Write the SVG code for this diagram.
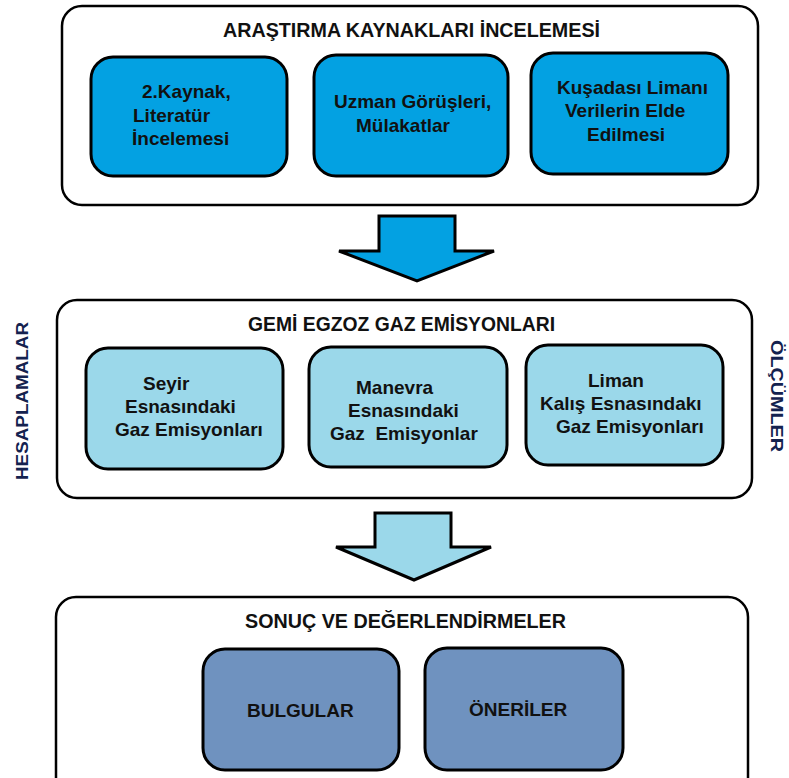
<svg xmlns="http://www.w3.org/2000/svg" width="789" height="778" viewBox="0 0 789 778">
<style>
.outer{fill:#fff;stroke:#000;stroke-width:2.5}
.box{stroke:#000;stroke-width:3}
.b1{fill:#03A1E2}
.b2{fill:#9BD8EA}
.b3{fill:#6F92BF}
.arr{stroke:#000;stroke-width:3;stroke-linejoin:miter}
text{font-family:"Liberation Sans",Arial,sans-serif;font-weight:bold;fill:#111;font-size:19px;white-space:pre}
.title{font-size:19.5px}
.side{font-size:16px;fill:#14224F}
</style>
<rect width="789" height="778" fill="#fff"/>

<g id="section1">
<rect class="outer" x="62" y="6" width="696" height="199" rx="20"/>
<text class="title" x="223" y="37" textLength="377" lengthAdjust="spacingAndGlyphs">ARAŞTIRMA KAYNAKLARI İNCELEMESİ</text>
</g>
<g id="node-kaynak">
<rect class="box b1" x="91" y="57" width="196" height="119" rx="22"/>
<text x="142" y="98">2.Kaynak,</text>
<text x="133" y="122">Literatür</text>
<text x="132" y="145">İncelemesi</text>
</g>
<g id="node-uzman">
<rect class="box b1" x="314" y="55" width="194" height="121" rx="22"/>
<text x="334" y="108">Uzman Görüşleri,</text>
<text x="356" y="132">Mülakatlar</text>
</g>
<g id="node-kusadasi">
<rect class="box b1" x="531" y="53" width="197" height="121" rx="22"/>
<text x="557" y="94">Kuşadası Limanı</text>
<text x="565" y="117">Verilerin Elde</text>
<text x="587" y="141">Edilmesi</text>
</g>

<g id="section2">
<rect class="outer" x="57" y="300" width="695" height="198" rx="20"/>
<text class="title" x="248" y="331" textLength="307" lengthAdjust="spacingAndGlyphs">GEMİ EGZOZ GAZ EMİSYONLARI</text>
</g>
<g id="node-seyir">
<rect class="box b2" x="86" y="348" width="197" height="121" rx="22"/>
<text x="143" y="390">Seyir</text>
<text x="125" y="413">Esnasındaki</text>
<text x="115" y="436">Gaz Emisyonları</text>
</g>
<g id="node-manevra">
<rect class="box b2" x="309" y="347" width="198" height="120" rx="22"/>
<text x="356" y="394">Manevra</text>
<text x="348" y="417">Esnasındaki</text>
<text x="330" y="440">Gaz  Emisyonlar</text>
</g>
<g id="node-liman">
<rect class="box b2" x="526" y="345" width="197" height="120" rx="22"/>
<text x="588" y="387">Liman</text>
<text x="540" y="410">Kalış Esnasındakı</text>
<text x="556" y="433">Gaz Emisyonları</text>
</g>
<g id="label-hesaplamalar">
<text class="side" transform="translate(28,480) rotate(-90)" textLength="158" lengthAdjust="spacingAndGlyphs">HESAPLAMALAR</text>
</g>
<g id="label-olcumler">
<text class="side" transform="translate(771,340) rotate(90)" textLength="112" lengthAdjust="spacingAndGlyphs">ÖLÇÜMLER</text>
</g>

<g id="section3">
<rect class="outer" x="56" y="597" width="692" height="220" rx="20"/>
<text class="title" x="245" y="628" textLength="321" lengthAdjust="spacingAndGlyphs">SONUÇ VE DEĞERLENDİRMELER</text>
</g>
<g id="node-bulgular">
<rect class="box b3" x="203" y="649" width="196" height="121" rx="22"/>
<text x="247" y="717">BULGULAR</text>
</g>
<g id="node-oneriler">
<rect class="box b3" x="425" y="648" width="198" height="122" rx="22"/>
<text x="469" y="716">ÖNERİLER</text>
</g>

<g id="connectors">
<polygon class="arr b1" points="379,216 455,216 455,251 494,251 417,281 339,251 379,251"/>
<polygon class="arr b2" points="375,513 451,513 451,547 491,547 414,580 336,547 375,547"/>
</g>
</svg>
